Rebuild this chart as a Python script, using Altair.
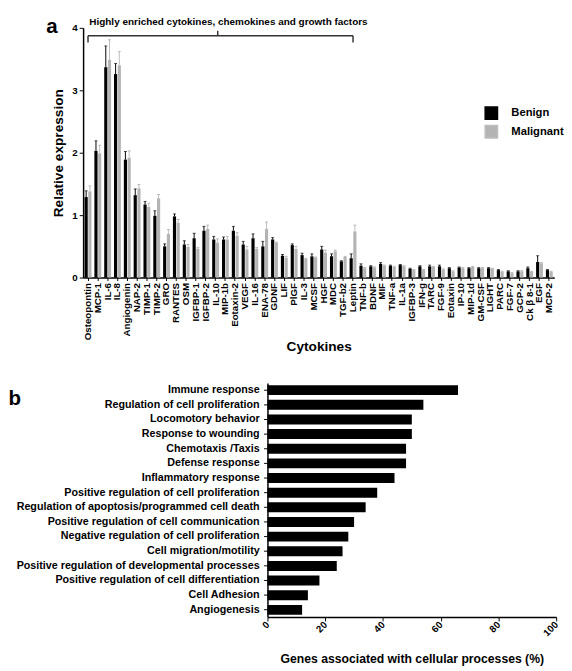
import altair as alt
import pandas as pd

FONT = "Liberation Sans"

cytokines = ["Osteopontin", "MCP-1", "IL-6", "IL-8", "Angiogenin", "NAP-2", "TIMP-1", "TIMP-2",
             "GRO", "RANTES", "OSM", "IGFBP-1", "IGFBP-2", "IL-10", "MIP-1b", "Eotaxin-2",
             "VEGF", "IL-16", "ENA-78", "GDNF", "LIF", "PlGF", "IL-3", "MCSF", "HGF", "MDC",
             "TGF-b2", "Leptin", "TNF-b", "BDNF", "MIF", "TNF-a", "IL-1a", "IGFBP-3", "IFN-g",
             "TARC", "FGF-9", "Eotaxin", "IP-10", "MIP-1d", "GM-CSF", "LIGHT", "PARC", "FGF-7",
             "GCP-2", "Ck β 8-1", "EGF", "MCP-2"]
benign = [1.29, 2.03, 3.37, 3.26, 1.89, 1.32, 1.17, 0.99, 0.50, 0.98, 0.53, 0.63, 0.75, 0.61,
          0.61, 0.75, 0.53, 0.63, 0.50, 0.61, 0.35, 0.52, 0.36, 0.34, 0.45, 0.34, 0.26, 0.31,
          0.19, 0.18, 0.22, 0.19, 0.20, 0.14, 0.18, 0.18, 0.18, 0.15, 0.16, 0.15, 0.15, 0.15,
          0.12, 0.10, 0.10, 0.15, 0.25, 0.12]
benign_err = [0.10, 0.16, 0.34, 0.17, 0.13, 0.10, 0.05, 0.08, 0.04, 0.04, 0.06, 0.08, 0.07, 0.05,
              0.04, 0.07, 0.05, 0.07, 0.08, 0.03, 0.02, 0.02, 0.03, 0.04, 0.05, 0.04, 0.01, 0.07,
              0.03, 0.01, 0.02, 0.01, 0.01, 0.01, 0.01, 0.02, 0.02, 0.01, 0.01, 0.01, 0.01, 0.01,
              0.01, 0.01, 0.01, 0.02, 0.10, 0.01]
malignant = [1.38, 1.99, 3.49, 3.40, 1.92, 1.43, 1.13, 1.27, 0.70, 0.88, 0.49, 0.46, 0.78, 0.56,
             0.61, 0.67, 0.45, 0.46, 0.78, 0.56, 0.32, 0.46, 0.30, 0.32, 0.40, 0.42, 0.33, 0.74,
             0.15, 0.16, 0.19, 0.17, 0.18, 0.12, 0.12, 0.17, 0.13, 0.10, 0.15, 0.17, 0.15, 0.14,
             0.09, 0.07, 0.10, 0.09, 0.23, 0.09]
malignant_err = [0.09, 0.13, 0.32, 0.22, 0.11, 0.06, 0.06, 0.06, 0.07, 0.05, 0.04, 0.02, 0.06, 0.06,
                 0.05, 0.05, 0.05, 0.02, 0.11, 0.01, 0.02, 0.04, 0.01, 0.01, 0.04, 0.02, 0.01, 0.10,
                 0.01, 0.01, 0.01, 0.01, 0.01, 0.01, 0.01, 0.01, 0.01, 0.01, 0.01, 0.01, 0.01, 0.01,
                 0.01, 0.01, 0.01, 0.01, 0.01, 0.01]
groups = ["Benign", "Malignant"]

processes = ["Immune response", "Regulation of cell proliferation", "Locomotory behavior",
             "Response to wounding", "Chemotaxis /Taxis", "Defense response",
             "Inflammatory response", "Positive regulation of cell proliferation",
             "Regulation of apoptosis/programmed cell death",
             "Positive regulation of cell communication",
             "Negative regulation of cell proliferation", "Cell migration/motility",
             "Positive regulation of developmental processes",
             "Positive regulation of cell differentiation", "Cell Adhesion", "Angiogenesis"]
percent = [66, 54, 50, 50, 48, 48, 44, 38, 34, 30, 28, 26, 24, 18, 14, 12]

rows = []
for i, c in enumerate(cytokines):
    rows.append({"cytokine": c, "group": "Benign", "value": benign[i], "top": benign[i] + benign_err[i]})
    rows.append({"cytokine": c, "group": "Malignant", "value": malignant[i], "top": malignant[i] + malignant_err[i]})
df_a = pd.DataFrame(rows)
df_b = pd.DataFrame({"process": processes, "pct": percent})

W_A, H_A = 483, 256
H_B = 240
AX = dict(grid=False, domainColor="black", domainWidth=1.5, tickColor="black",
          labelColor="black", labelFontWeight="bold", titleColor="black", titleFontWeight="bold")

xa = alt.X("cytokine:N", scale=alt.Scale(domain=cytokines, paddingInner=0.3, paddingOuter=0.15),
           axis=alt.Axis(title="Cytokines", labelAngle=270, labelFontSize=10, tickSize=3,
                         labelPadding=2, titleFontSize=14, titlePadding=0, **AX))
xo = alt.XOffset("group:N", scale=alt.Scale(domain=groups, paddingInner=0.15))
ya = alt.Y("value:Q", scale=alt.Scale(domain=[0, 4]),
           axis=alt.Axis(title="Relative expression", values=[0, 1, 2, 3, 4], format="d",
                         labelFontSize=10, tickSize=4, titleFontSize=14, titlePadding=7, **AX))

bars = alt.Chart(df_a).mark_bar().encode(
    x=xa, xOffset=xo, y=ya,
    fill=alt.Fill("group:N", scale=alt.Scale(domain=groups, range=["#000000", "#b4b4b4"]),
                  legend=alt.Legend(title=None, orient="none", legendX=411, legendY=80,
                                    symbolType="square", symbolSize=160, symbolStrokeColor="black",
                                    symbolStrokeWidth=1.5, labelFontSize=11.5, labelFontWeight="bold",
                                    labelColor="black", rowPadding=0, labelOffset=13)),
)
errs = alt.Chart(df_a).mark_rule(strokeWidth=1).encode(
    x=alt.X("cytokine:N"), xOffset=alt.XOffset("group:N"), y="value:Q", y2="top:Q",
    stroke=alt.Stroke("group:N", scale=alt.Scale(domain=groups, range=["#000000", "#bdbdbd"]), legend=None),
)
caps = alt.Chart(df_a).mark_tick(thickness=1, size=3).encode(
    x=alt.X("cytokine:N"), xOffset=alt.XOffset("group:N"), y="top:Q",
    color=alt.Color("group:N", scale=alt.Scale(domain=groups, range=["#000000", "#a0a0a0"]), legend=None),
)

brk = pd.DataFrame({"a": [cytokines[0]], "b": [cytokines[27]]})
bracket_h = alt.Chart(brk).mark_rule(color="#333333", strokeWidth=1.5).encode(
    x=alt.X("a:N"), x2="b:N", y=alt.value(8))
bracket_l = alt.Chart(brk).mark_rule(color="#333333", strokeWidth=1.5).encode(
    x=alt.X("a:N"), y=alt.value(8), y2=alt.value(15))
bracket_r = alt.Chart(brk).mark_rule(color="#333333", strokeWidth=1.5).encode(
    x=alt.X("b:N"), y=alt.value(8), y2=alt.value(15))
bracket_n = alt.Chart(brk).mark_rule(color="#333333", strokeWidth=1.5).encode(
    x=alt.value(138), y=alt.value(3), y2=alt.value(8))
heading = alt.Chart(brk).mark_text(fontSize=10.2, fontWeight="bold", font=FONT, color="black").encode(
    x=alt.value(149), y=alt.value(-6), text=alt.value("Highly enriched cytokines, chemokines and growth factors"))
label_a = alt.Chart(brk).mark_text(fontSize=21, fontWeight="bold", font=FONT, color="black").encode(
    x=alt.value(-32), y=alt.value(-1), text=alt.value("a"))

panel_a = alt.layer(bars, errs, caps, bracket_h, bracket_l, bracket_r, bracket_n, heading, label_a
                    ).properties(width=W_A, height=H_A)

# panel b: category names drawn as text from the data, in a narrow chart left of the bars
yb_scale = alt.Scale(domain=processes, paddingInner=0.32, paddingOuter=0.15)
names_b = alt.Chart(df_b).mark_text(align="right", baseline="middle", fontSize=11, fontWeight="bold",
                                    font=FONT, color="black").encode(
    y=alt.Y("process:N", sort=processes, scale=yb_scale, axis=None),
    x=alt.value(181), text="process:N")
label_b = alt.Chart(df_b.head(1)).mark_text(fontSize=21, fontWeight="bold", font=FONT, color="black").encode(
    x=alt.value(-70), y=alt.value(17), text=alt.value("b"))
names_panel = alt.layer(names_b, label_b).properties(width=181, height=H_B)

bars_b = alt.Chart(df_b).mark_bar(color="black").encode(
    y=alt.Y("process:N", sort=processes, scale=yb_scale,
            axis=alt.Axis(title=None, labels=False, tickSize=4, **AX)),
    x=alt.X("pct:Q", scale=alt.Scale(domain=[0, 100]),
            axis=alt.Axis(title="Genes associated with cellular processes (%)",
                          values=[0, 20, 40, 60, 80, 100], labelAngle=315,
                          labelAlign="right", labelBaseline="middle", labelFontSize=10,
                          tickSize=4, titleFontSize=12.5, titlePadding=15, **AX)),
).properties(width=296, height=H_B)

panel_b = alt.hconcat(names_panel, bars_b, spacing=0)

chart = alt.vconcat(panel_a, panel_b, spacing=30).properties(
    padding={"left": 0, "top": 0, "right": 0, "bottom": 0}
).configure(font=FONT).configure_view(stroke=None, strokeWidth=0)

chart.save("out.html", embed_options={"renderer": "svg", "actions": False})
